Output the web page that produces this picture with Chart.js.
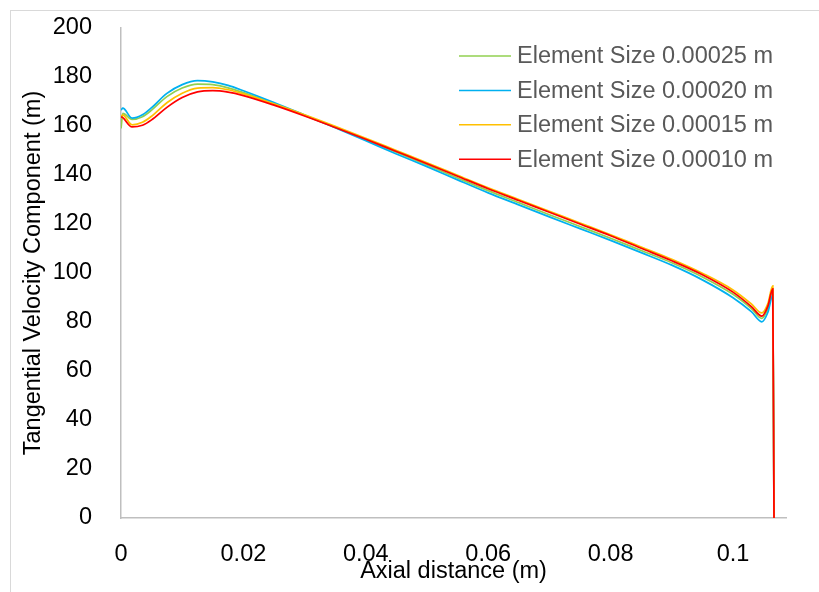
<!DOCTYPE html>
<html lang="en">
<head>
    <meta charset="UTF-8">
    <title>Tangential Velocity Component</title>
    <script src="https://cdn.jsdelivr.net/npm/chart.js@4.4.0/dist/chart.umd.min.js"></script>
    <style>
        body {
            margin: 0;
            background: #ffffff;
        }
        #velocityChart {
            display: block;
        }
    </style>
</head>
<body>
    <canvas id="velocityChart" width="819" height="592"></canvas>

    <script>
        // Axial positions (m), shared by all four mesh sizes
        const axialPos = [0, 0.0003, 0.0018, 0.0035, 0.005, 0.0075, 0.010, 0.0125, 0.015, 0.0175,
            0.020, 0.025, 0.030, 0.035, 0.040, 0.045, 0.050, 0.055, 0.060, 0.065, 0.070,
            0.075, 0.080, 0.085, 0.090, 0.095, 0.100, 0.103, 0.1047, 0.1057, 0.1065, 0.1067];

        const size00025 = [159.0, 165.2, 162.7, 163.8, 166.5, 172.0, 175.5, 177.1, 176.9, 175.6,
            173.6, 169.1, 164.3, 159.5, 154.4, 149.3, 144.1, 138.8, 133.6, 128.7, 123.8,
            119.0, 114.2, 109.2, 104.2, 98.4, 91.3, 85.5, 81.5, 85.5, 93.0, 0];

        const size00020 = [166.5, 167.3, 163.2, 164.6, 167.5, 173.3, 176.9, 178.5, 178.0, 176.6,
            174.4, 169.6, 164.5, 159.3, 154.0, 148.6, 143.4, 138.0, 132.7, 127.8, 122.9,
            118.1, 113.3, 108.3, 103.2, 97.2, 89.9, 84.2, 80.1, 84.0, 91.0, 0];

        const size00015 = [164.0, 164.4, 160.5, 161.5, 164.0, 169.5, 173.4, 175.5, 175.7, 174.8,
            173.1, 169.0, 164.6, 159.9, 155.0, 150.0, 145.0, 139.9, 134.8, 130.0, 125.2,
            120.4, 115.6, 110.6, 105.6, 99.9, 93.1, 87.4, 83.7, 87.5, 94.7, 0];

        const size00010 = [163.8, 163.4, 159.6, 160.3, 162.5, 167.6, 171.6, 173.9, 174.4, 173.8,
            172.4, 168.5, 164.1, 159.4, 154.6, 149.6, 144.6, 139.5, 134.4, 129.6, 124.8,
            120.0, 115.2, 110.1, 105.0, 99.3, 92.2, 86.3, 82.4, 86.5, 93.5, 0];

        const seriesNames = ['Element Size 0.00025 m', 'Element Size 0.00020 m',
            'Element Size 0.00015 m', 'Element Size 0.00010 m'];
        const seriesColors = ['#92D050', '#00B0F0', '#FFC000', '#FF0000'];

        const xTicks = [0, 0.02, 0.04, 0.06, 0.08, 0.1];
        const yTicks = [0, 20, 40, 60, 80, 100, 120, 140, 160, 180, 200];

        const FONT = "'Liberation Sans', Arial, sans-serif";

        const toPoints = ys => axialPos.map((x, i) => ({ x: x, y: ys[i] }));
        const allSeries = [size00025, size00020, size00015, size00010];

        // outer frame of the chart object (runs off the right and bottom edge)
        const framePlugin = {
            id: 'frame',
            beforeDraw(chart) {
                const ctx = chart.ctx;
                ctx.save();
                ctx.fillStyle = '#ffffff';
                ctx.fillRect(0, 0, chart.width, chart.height);
                ctx.strokeStyle = '#D9D9D9';
                ctx.lineWidth = 1;
                ctx.strokeRect(10.5, 10.5, 830, 610);
                ctx.restore();
            }
        };

        // legend drawn inside the plot, top right
        const insideLegend = {
            id: 'insideLegend',
            afterDraw(chart) {
                const ctx = chart.ctx;
                ctx.save();
                ctx.font = '23.5px ' + FONT;
                ctx.textBaseline = 'middle';
                ctx.textAlign = 'left';
                chart.data.datasets.forEach((ds, i) => {
                    const y = 56 + i * 34.4;
                    ctx.strokeStyle = ds.borderColor;
                    ctx.lineWidth = 1.5;
                    ctx.beginPath();
                    ctx.moveTo(459, y);
                    ctx.lineTo(511, y);
                    ctx.stroke();
                    ctx.fillStyle = '#595959';
                    ctx.fillText(ds.label, 517, y + 1);
                });
                ctx.restore();
            }
        };

        new Chart(document.getElementById('velocityChart'), {
            type: 'line',
            data: {
                datasets: allSeries.map((ys, i) => ({
                    label: seriesNames[i],
                    data: toPoints(ys),
                    borderColor: seriesColors[i],
                    backgroundColor: seriesColors[i],
                    borderWidth: 1.75,
                    pointRadius: 0,
                    cubicInterpolationMode: 'monotone',
                    fill: false,
                    order: 4 - i
                }))
            },
            options: {
                responsive: false,
                animation: false,
                devicePixelRatio: 1,
                layout: {
                    padding: { left: 0, right: 33, top: 28, bottom: 0 }
                },
                plugins: {
                    legend: { display: false },
                    tooltip: { enabled: false }
                },
                scales: {
                    x: {
                        type: 'linear',
                        min: 0,
                        max: 0.10866,
                        afterFit(scale) {
                            scale.height = 74;
                            scale.paddingLeft = 0;
                            scale.paddingRight = 0;
                        },
                        afterBuildTicks(scale) { scale.ticks = xTicks.map(v => ({ value: v })); },
                        grid: { display: true, drawOnChartArea: false, drawTicks: false },
                        border: { display: true, color: '#BFBFBF', width: 1.5 },
                        ticks: {
                            padding: 22,
                            color: '#000000',
                            font: { family: FONT, size: 23.5 },
                            maxRotation: 0,
                            callback: v => String(v)
                        },
                        title: {
                            display: true,
                            text: 'Axial distance (m)',
                            color: '#000000',
                            font: { family: FONT, size: 23.5 },
                            padding: { top: 0, bottom: 6 }
                        }
                    },
                    y: {
                        min: 0,
                        max: 200,
                        afterFit(scale) {
                            // keep the plot box where the reference has it
                            scale.width = 121;
                            scale.paddingTop = 0;
                            scale.paddingBottom = 0;
                        },
                        afterBuildTicks(scale) { scale.ticks = yTicks.map(v => ({ value: v })); },
                        grid: { display: true, drawOnChartArea: false, drawTicks: false },
                        border: { display: true, color: '#BFBFBF', width: 1.5 },
                        ticks: {
                            padding: 29,
                            color: '#000000',
                            font: { family: FONT, size: 23.5 },
                            callback: v => String(v)
                        },
                        title: {
                            display: true,
                            text: 'Tangential Velocity Component (m)',
                            color: '#000000',
                            font: { family: FONT, size: 23.5 },
                            padding: { top: 19, bottom: 0 }
                        }
                    }
                }
            },
            plugins: [framePlugin, insideLegend]
        });
    </script>
</body>
</html>
